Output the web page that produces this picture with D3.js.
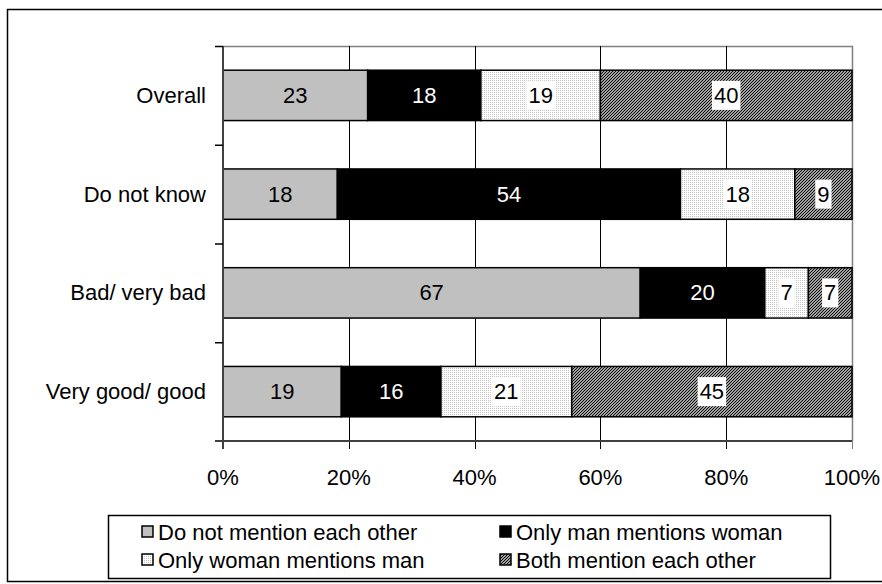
<!DOCTYPE html>
<html>
<head>
<meta charset="utf-8">
<script src="https://cdn.jsdelivr.net/npm/d3@7/dist/d3.min.js"></script>
<style>
  html, body { margin: 0; padding: 0; background: #fff; }
  svg { display: block; }
  text { font-family: "Liberation Sans", Arial, sans-serif; }
</style>
</head>
<body>
<svg id="chart" width="882" height="584"></svg>
<script>
const categories = ["Overall", "Do not know", "Bad/ very bad", "Very good/ good"];
const seriesNames = ["Do not mention each other", "Only man mentions woman", "Only woman mentions man", "Both mention each other"];
const doNotMention = [23, 18, 67, 19];
const onlyManMentions = [18, 54, 20, 16];
const onlyWomanMentions = [19, 18, 7, 21];
const bothMention = [40, 9, 7, 45];
const tickValues = [0, 0.2, 0.4, 0.6, 0.8, 1.0];
const tickLabels = ["0%", "20%", "40%", "60%", "80%", "100%"];

const series = [doNotMention, onlyManMentions, onlyWomanMentions, bothMention];
const FONT = 22;

const svg = d3.select("#chart");
const defs = svg.append("defs");

// dotted pattern
const pDot = defs.append("pattern").attr("id", "dots").attr("patternUnits", "userSpaceOnUse")
  .attr("width", 2).attr("height", 2);
pDot.append("rect").attr("width", 2).attr("height", 2).attr("fill", "#fff");
pDot.append("rect").attr("width", 1).attr("height", 1).attr("fill", "#c4c4c4");

// hatch pattern
const pH = defs.append("pattern").attr("id", "hatch").attr("patternUnits", "userSpaceOnUse")
  .attr("width", 3).attr("height", 3);
pH.append("rect").attr("width", 3).attr("height", 3).attr("fill", "#e0e0e0");
pH.append("path").attr("d", "M0,3 L3,0 M-1,1 L1,-1 M2,4 L4,2")
  .attr("stroke", "#000").attr("stroke-width", 1.1);

const fills = ["#c0c0c0", "#000000", "url(#dots)", "url(#hatch)"];
const textFill = ["#000", "#fff", "#000", "#000"];
const labelBg = [false, false, true, true];

// outer border
svg.append("rect").attr("x", 7.5).attr("y", 9.5).attr("width", 900).attr("height", 572)
  .attr("fill", "none").attr("stroke", "#000").attr("stroke-width", 1.5);

const x = d3.scaleLinear().domain([0, 1]).range([223, 852]);
const y = d3.scaleBand().domain(categories).range([46, 441]).paddingInner(0.49).paddingOuter(0.245);
const yEdges = d3.scaleLinear().domain([0, categories.length]).range([46, 441]);

// plot border (top & right)
svg.append("path").attr("d", `M${x(0)},46.5 H${x(1) + 0.5} V441`)
  .attr("fill", "none").attr("stroke", "#808080").attr("stroke-width", 1.5);

// gridlines
const grid = svg.append("g");
tickValues.slice(1).forEach(t => {
  grid.append("line").attr("x1", Math.round(x(t)) + 0.5).attr("x2", Math.round(x(t)) + 0.5)
    .attr("y1", 46).attr("y2", 449).attr("stroke", t === 1 ? "#808080" : "#000").attr("stroke-width", 1);
});

// bars
const rows = categories.map((c, i) => {
  const vals = series.map(s => s[i]);
  const total = d3.sum(vals);
  let acc = 0;
  return vals.map((v, k) => {
    const seg = { cat: c, k, v, x0: acc / total, x1: (acc + v) / total };
    acc += v;
    return seg;
  });
}).flat();

const barG = svg.append("g");
barG.selectAll("rect").data(rows).join("rect")
  .attr("x", d => x(d.x0)).attr("width", d => x(d.x1) - x(d.x0))
  .attr("y", d => y(d.cat)).attr("height", y.bandwidth())
  .attr("fill", d => fills[d.k]).attr("stroke", "#000").attr("stroke-width", 1.5);

// labels
const lblG = svg.append("g");
rows.forEach(d => {
  const cx = (x(d.x0) + x(d.x1)) / 2;
  const cy = y(d.cat) + y.bandwidth() / 2;
  const g = lblG.append("g");
  const t = g.append("text").attr("x", cx).attr("y", cy).attr("text-anchor", "middle")
    .attr("dominant-baseline", "central").attr("font-size", FONT).attr("fill", textFill[d.k]).text(d.v);
  if (labelBg[d.k]) {
    const bb = t.node().getBBox();
    g.insert("rect", "text").attr("x", bb.x - 2).attr("y", cy - 14.5)
      .attr("width", bb.width + 4).attr("height", 29).attr("fill", "#fff");
  }
});

// axes
const axG = svg.append("g");
axG.append("line").attr("x1", 223).attr("x2", 223).attr("y1", 46).attr("y2", 449)
  .attr("stroke", "#404040").attr("stroke-width", 2);
axG.append("line").attr("x1", 215).attr("x2", 852).attr("y1", 441).attr("y2", 441)
  .attr("stroke", "#404040").attr("stroke-width", 2);
d3.range(categories.length).forEach(i => {
  axG.append("line").attr("x1", 215).attr("x2", 223).attr("y1", yEdges(i) + 0.5).attr("y2", yEdges(i) + 0.5)
    .attr("stroke", "#000").attr("stroke-width", 1.5);
});

// category labels
svg.append("g").selectAll("text").data(categories).join("text")
  .attr("x", 206).attr("y", d => y(d) + y.bandwidth() / 2).attr("text-anchor", "end")
  .attr("dominant-baseline", "central").attr("font-size", FONT).text(d => d);

// tick labels
svg.append("g").selectAll("text").data(tickValues).join("text")
  .attr("x", d => x(d)).attr("y", 477).attr("text-anchor", "middle")
  .attr("dominant-baseline", "central").attr("font-size", FONT).text((d, i) => tickLabels[i]);

// legend
const lg = svg.append("g");
lg.append("rect").attr("x", 108.5).attr("y", 515.5).attr("width", 722).attr("height", 63)
  .attr("fill", "#fff").attr("stroke", "#000").attr("stroke-width", 1.5);
const legendPos = [[142, 532], [500, 532], [142, 560], [500, 560]];
seriesNames.forEach((n, k) => {
  const [lx, ly] = legendPos[k];
  lg.append("rect").attr("x", lx).attr("y", ly - 6).attr("width", 11).attr("height", 11)
    .attr("fill", fills[k]).attr("stroke", "#000").attr("stroke-width", 1.5);
  lg.append("text").attr("x", lx + 16).attr("y", ly).attr("dominant-baseline", "central")
    .attr("font-size", FONT).text(n);
});
</script>
</body>
</html>
